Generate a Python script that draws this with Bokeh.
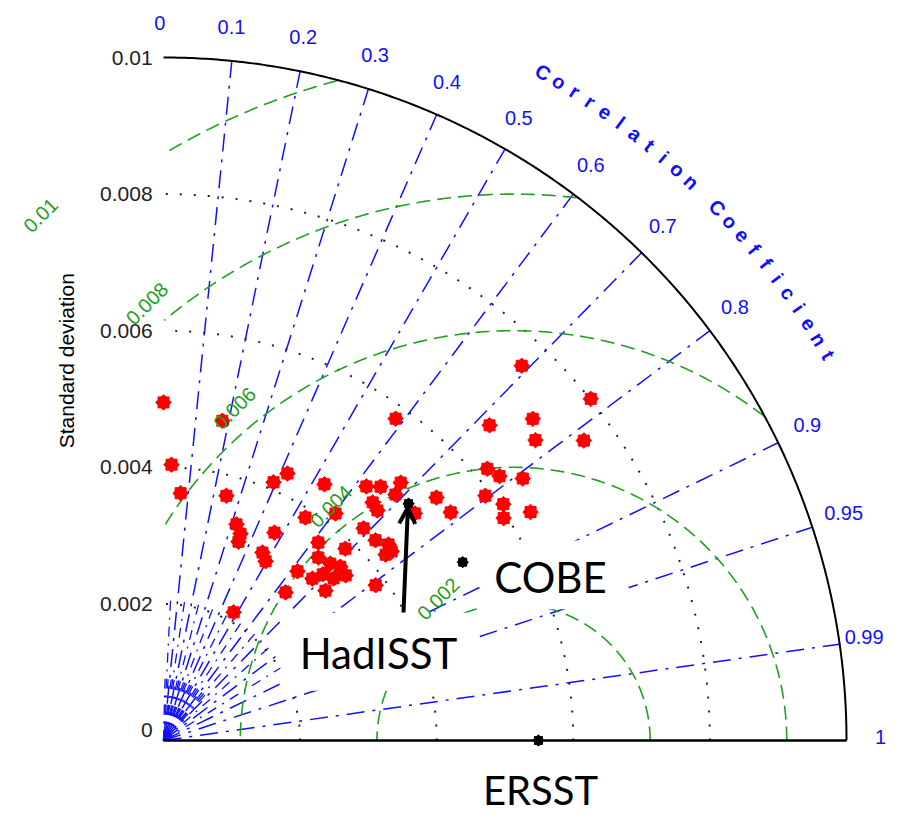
import numpy as np
from bokeh.plotting import figure
from bokeh.models import Range1d, Arrow, OpenHead
from bokeh.core.properties import value
from bokeh.embed import file_html
from bokeh.resources import INLINE

# ---------------- data ----------------
# model simulations (red stars): standard deviation and correlation with ERSST
model_std = [0.00495, 0.00476, 0.00404, 0.00363, 0.00370, 0.00334, 0.00323, 0.00311,
             0.00411, 0.00431, 0.00345, 0.00311, 0.00302, 0.00443, 0.00387, 0.00417,
             0.00476, 0.00489, 0.00513, 0.00495, 0.00464, 0.00460, 0.00496, 0.00427,
             0.00427, 0.00437, 0.00434, 0.00424, 0.00385, 0.00368, 0.00387, 0.00351,
             0.00356, 0.00363, 0.00360, 0.00344, 0.00337, 0.00316, 0.00322, 0.00323,
             0.00281, 0.00214, 0.00581, 0.00759, 0.00801, 0.00664, 0.00717, 0.00700,
             0.00756, 0.00619, 0.00626, 0.00651, 0.00592, 0.00606, 0.00595, 0.00633,
             0.00535, 0.00537]
model_corr = [0.000, 0.181, 0.029, 0.069, 0.249, 0.320, 0.349, 0.353,
              0.392, 0.421, 0.471, 0.466, 0.495, 0.532, 0.537, 0.604,
              0.624, 0.650, 0.677, 0.686, 0.660, 0.681, 0.742, 0.686,
              0.727, 0.754, 0.770, 0.767, 0.807, 0.616, 0.688, 0.646,
              0.686, 0.713, 0.741, 0.724, 0.692, 0.621, 0.677, 0.734,
              0.636, 0.480, 0.585, 0.691, 0.781, 0.719, 0.754, 0.778,
              0.814, 0.766, 0.786, 0.808, 0.796, 0.821, 0.837, 0.849,
              0.747, 0.783]

# observational datasets (black stars)
obs_names = ["HadISST", "COBE", "ERSST"]
obs_std = [0.00499, 0.00510, 0.00549]
obs_corr = [0.719, 0.859, 1.0]

# reference std used for the centred RMS difference arcs
rms_ref_std = 0.005125

std_ticks = [0.0, 0.002, 0.004, 0.006, 0.008, 0.01]
std_tick_labels = ["0", "0.002", "0.004", "0.006", "0.008", "0.01"]
corr_ticks = [0.0, 0.1, 0.2, 0.3, 0.4, 0.5, 0.6, 0.7, 0.8, 0.9, 0.95, 0.99, 1.0]
corr_tick_labels = ["0", "0.1", "0.2", "0.3", "0.4", "0.5", "0.6", "0.7", "0.8", "0.9", "0.95", "0.99", "1"]
rms_levels = [0.002, 0.004, 0.006, 0.008, 0.01]
rms_labels = ["0.002", "0.004", "0.006", "0.008", "0.01"]
minor_corr = [0.05, 0.15, 0.25, 0.35, 0.45, 0.55, 0.65, 0.75, 0.85]
fine_corr = [0.025, 0.075, 0.125, 0.175, 0.225, 0.275, 0.325, 0.375, 0.425,
             0.475, 0.525, 0.575, 0.625, 0.675]

# ---------------- layout ----------------
PX = 68300.0          # pixels per unit of std
W, H = 891, 817
OX, OY = 163, 740     # origin position inside the canvas
RMAX = 0.01

p = figure(width=W, height=H, title=None,
           x_range=Range1d(-OX / PX, (W - OX) / PX),
           y_range=Range1d(-(H - OY) / PX, OY / PX),
           x_axis_type=None, y_axis_type=None, min_border=0,
           toolbar_location=None, output_backend="svg",
           outline_line_color=None, background_fill_color="white",
           border_fill_color="white")

FONT = value("Liberation Sans")
BLUE = "#1010ff"
GREEN = "#22a022"

# correlation radial lines (dash-dot, blue)
xs, ys = [], []
for c in corr_ticks[1:-1]:
    th = np.arccos(c)
    xs.append([0, RMAX * np.cos(th)])
    ys.append([0, RMAX * np.sin(th)])
p.multi_line(xs, ys, line_color=BLUE, line_width=1.5, line_dash="18 8 3 8")
xs, ys = [], []
for c in minor_corr:
    th = np.arccos(c)
    xs.append([0, 0.0021 * np.cos(th)])
    ys.append([0, 0.0021 * np.sin(th)])
for c in fine_corr:
    th = np.arccos(c)
    xs.append([0, 0.0009 * np.cos(th)])
    ys.append([0, 0.0009 * np.sin(th)])
p.multi_line(xs, ys, line_color=BLUE, line_width=1.3, line_dash="10 7 2 7")

# std arcs (black dotted)
t = np.linspace(0, np.pi / 2, 300)
for s in std_ticks[1:-1]:
    p.line(s * np.cos(t), s * np.sin(t), line_color="#222222", line_width=2, line_dash="2 12")

# centred RMS arcs (green dashed)
tt = np.linspace(0, np.pi, 800)
for r in rms_levels:
    x = rms_ref_std + r * np.cos(tt)
    y = r * np.sin(tt)
    bad = (x < 0) | (np.hypot(x, y) > RMAX)
    x = np.where(bad, np.nan, x)
    y = np.where(bad, np.nan, y)
    p.line(x, y, line_color=GREEN, line_width=1.6, line_dash="14 7")

# outer arc and bottom axis
p.line(RMAX * np.cos(t), RMAX * np.sin(t), line_color="black", line_width=2)
p.line([0, RMAX], [0, 0], line_color="black", line_width=2.5)

# white boxes behind the big labels
p.quad(left=[0.00171, 0.00467], right=[0.00461, 0.00681],
       bottom=[0.00073, 0.00192], top=[0.00187, 0.00293],
       fill_color="white", line_color=None)

# model points (8-point red stars)
mc = np.array(model_corr)
ms = np.array(model_std)
mx = ms * mc
my = ms * np.sqrt(1 - mc ** 2)
for ang in (0, np.pi / 4):
    p.scatter(mx, my, marker="square", size=11, angle=ang, fill_color="red", line_color="red")

# observational points
oc = np.array(obs_corr)
osd = np.array(obs_std)
ox_ = osd * oc
oy_ = osd * np.sqrt(1 - oc ** 2)
for ang in (0, np.pi / 4):
    p.scatter(ox_, oy_, marker="square", size=8, angle=ang, fill_color="black", line_color="black")

# arrow to HadISST
p.add_layout(Arrow(end=OpenHead(size=16, line_width=4, line_color="black"),
                   x_start=0.003514, y_start=0.001874,
                   x_end=ox_[0] - 0.00001, y_end=oy_[0] - 0.00006,
                   line_width=4, line_color="black"))

# big dataset labels
p.text(x=[0.003148, 0.005666], y=[0.001288, 0.002401], text=obs_names[:2],
       text_align="center", text_baseline="middle", text_font=value("Lato"),
       text_font_size=value("42px"), text_color="black")
p.text(x=[0.00552], y=[-0.00072], text=obs_names[2:],
       text_align="center", text_baseline="middle", text_font=value("Lato"),
       text_font_size=value("40px"), text_color="black")

# std tick labels (left)
sy = [s if s > 0 else 0.00015 for s in std_ticks]
p.text(x=[-0.00016] * len(std_ticks), y=sy, text=std_tick_labels,
       text_align="right", text_baseline="middle", text_font=FONT,
       text_font_size=value("21px"), text_color="#222222")

p.text(x=[-0.00142], y=[0.00556], text=["Standard deviation"], angle=[np.pi / 2],
       text_align="center", text_baseline="middle", text_font=FONT,
       text_font_size=value("21px"), text_color="black")

# correlation tick labels
lr = np.array([0.0105] * 11 + [0.01037, 0.0105])
cth = np.arccos(np.array(corr_ticks)) + np.radians(0.3)
p.text(x=lr * np.cos(cth), y=lr * np.sin(cth), text=corr_tick_labels,
       text_align="center", text_baseline="middle", text_font=FONT,
       text_font_size=value("20px"), text_color=BLUE)

# curved axis title
title = "Correlation Coefficient"
phi = np.radians(60.4 - 1.377 * np.arange(len(title)))
tr = 0.01125
p.text(x=tr * np.cos(phi), y=tr * np.sin(phi), text=list(title), angle=phi - np.pi / 2,
       text_align="center", text_baseline="middle", text_font=FONT,
       text_font_size=value("20px"), text_font_style="bold", text_color=BLUE)

# RMS labels
la = np.radians([118, 128, 130, 130, 132])
lrad = np.array(rms_levels) + 0.00035
p.text(x=rms_ref_std + lrad * np.cos(la), y=lrad * np.sin(la), text=rms_labels,
       angle=[np.pi / 4] * len(rms_levels),
       text_align="center", text_baseline="middle", text_font=FONT,
       text_font_size=value("20px"), text_color=GREEN)

open("out.html", "w").write(file_html(p, INLINE))
